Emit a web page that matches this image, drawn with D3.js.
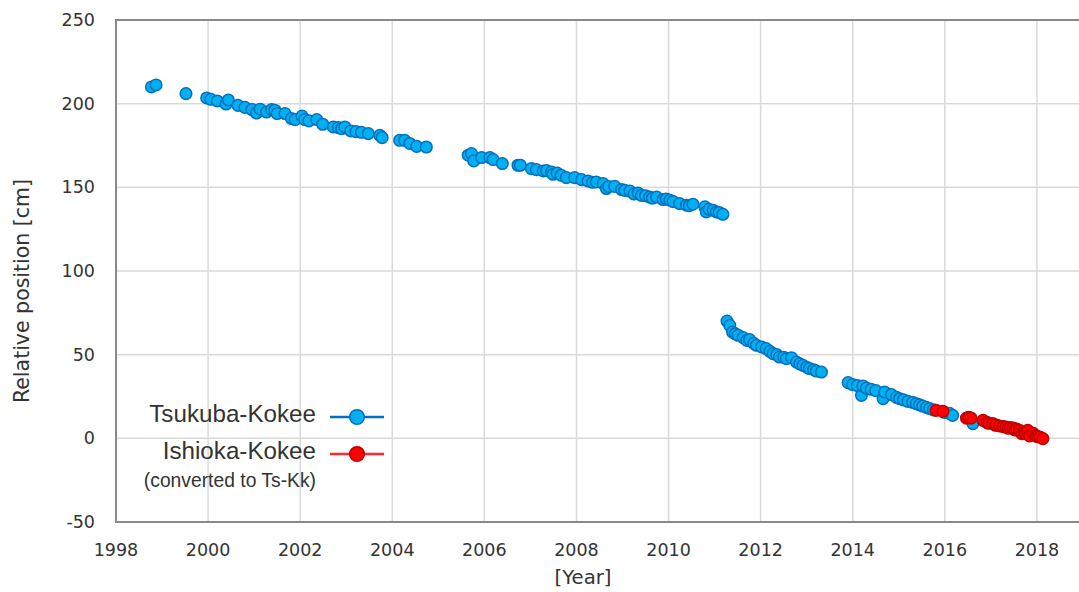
<!DOCTYPE html>
<html>
<head>
<meta charset="utf-8">
<script src="https://cdn.jsdelivr.net/npm/d3@7"></script>
<style>
  html, body { margin: 0; padding: 0; background: #fff; }
  svg { display: block; }
</style>
</head>
<body>
<svg id="chart" width="1079" height="592"></svg>
<script>
// Tsukuba-Kokee baseline length (relative position, cm) by decimal year
const tsYears = [
  1998.77, 1998.87, 1999.52, 1999.97, 2000.06, 2000.20, 2000.39, 2000.44, 2000.65, 2000.80,
  2000.95, 2001.05, 2001.13, 2001.27, 2001.38, 2001.45, 2001.50, 2001.67, 2001.81, 2001.89,
  2002.04, 2002.10, 2002.19, 2002.36, 2002.49, 2002.72, 2002.83, 2002.90, 2002.97, 2003.10,
  2003.21, 2003.33, 2003.48, 2003.73, 2003.78, 2004.16, 2004.27, 2004.38, 2004.53, 2004.74,
  2005.65, 2005.72, 2005.77, 2005.94, 2006.12, 2006.19, 2006.39, 2006.73, 2006.78, 2007.02,
  2007.13, 2007.28, 2007.35, 2007.46, 2007.49, 2007.58, 2007.67, 2007.78, 2007.96, 2008.11,
  2008.25, 2008.35, 2008.43, 2008.58, 2008.65, 2008.70, 2008.83, 2008.98, 2009.05, 2009.16,
  2009.25, 2009.34, 2009.41, 2009.50, 2009.59, 2009.65, 2009.74, 2009.88, 2009.95, 2010.03,
  2010.10, 2010.24, 2010.39, 2010.45, 2010.53, 2010.79, 2010.82, 2010.88, 2010.97, 2011.04,
  2011.10, 2011.18,
  2011.27, 2011.33, 2011.39, 2011.45, 2011.51, 2011.62, 2011.70, 2011.76, 2011.85, 2011.91,
  2012.02, 2012.12, 2012.20, 2012.27, 2012.35, 2012.41, 2012.50, 2012.56, 2012.67, 2012.78,
  2012.85, 2012.92, 2013.00, 2013.06, 2013.15, 2013.21, 2013.32,
  2013.90, 2014.00, 2014.10, 2014.19, 2014.22, 2014.30, 2014.40, 2014.50, 2014.66, 2014.69,
  2014.84, 2014.95, 2015.02, 2015.10, 2015.20, 2015.30, 2015.38, 2015.45, 2015.52, 2015.60,
  2015.67, 2015.75, 2015.99, 2016.10, 2016.17, 2016.61, 2016.90
];
const tsValues = [
  210.0, 211.2, 206.0, 203.4, 202.6, 201.6, 199.8, 202.2, 199.0, 197.8,
  196.5, 194.4, 196.7, 195.0, 196.5, 196.1, 194.1, 194.1, 191.1, 190.5,
  192.6, 190.5, 189.7, 190.5, 187.7, 186.1, 185.7, 185.1, 186.1, 183.7,
  183.3, 182.9, 182.1, 181.1, 179.7, 178.1, 178.1, 176.2, 174.5, 174.1,
  169.2, 170.2, 165.8, 167.8, 167.8, 166.6, 164.2, 163.2, 163.2, 161.2,
  160.6, 159.8, 160.0, 159.2, 157.8, 158.5, 157.2, 155.8, 155.8, 154.6,
  153.8, 153.0, 153.2, 152.2, 149.3, 150.5, 150.6, 148.7, 148.2, 147.8,
  146.0, 146.6, 145.2, 145.0, 144.2, 143.5, 144.2, 142.7, 143.0, 142.3,
  141.5, 140.3, 139.3, 139.0, 139.9, 138.3, 135.3, 136.8, 136.3, 135.3,
  135.0, 133.9,
  70.1, 67.5, 63.5, 62.5, 61.6, 60.2, 58.5, 59.0, 56.8, 55.6,
  54.6, 53.6, 52.0, 50.6, 50.0, 48.6, 48.5, 47.6, 48.2, 45.6,
  44.5, 43.6, 42.5, 41.7, 41.0, 40.2, 39.6,
  33.3, 32.1, 31.5, 25.7, 31.3, 30.0, 29.3, 28.5, 23.7, 27.7,
  26.1, 24.5, 23.7, 23.0, 22.1, 21.5, 20.7, 20.0, 19.3, 18.5,
  17.8, 17.0, 15.5, 14.9, 13.7, 8.8, 9.7
];

// Ishioka-Kokee values converted to the Tsukuba-Kokee baseline
const ikYears = [
  2015.81, 2015.96, 2016.47, 2016.52, 2016.57, 2016.83, 2016.92, 2016.95, 2017.04, 2017.10,
  2017.12, 2017.19, 2017.27, 2017.33, 2017.38, 2017.42, 2017.48, 2017.52, 2017.56, 2017.62,
  2017.67, 2017.72, 2017.75, 2017.80, 2017.84, 2017.92, 2017.98, 2018.01, 2018.06, 2018.13
];
const ikValues = [
  16.7, 16.1, 12.1, 12.5, 12.1, 10.8, 9.5, 9.0, 8.8, 7.8,
  8.0, 7.4, 7.0, 6.8, 6.0, 6.5, 6.2, 5.0, 5.5, 4.8,
  2.8, 3.5, 3.8, 4.8, 1.4, 3.0, 1.5, 1.0, 0.8, -0.2
];

const xTicks = [1998, 2000, 2002, 2004, 2006, 2008, 2010, 2012, 2014, 2016, 2018];
const yTicks = [-50, 0, 50, 100, 150, 200, 250];

const legendItems = [
  { label: "Tsukuba-Kokee", line: "#0070c0", fill: "#00b0f0", stroke: "#0070c0" },
  { label: "Ishioka-Kokee", line: "#ff2a2a", fill: "#ff0000", stroke: "#c00000" }
];

const svg = d3.select("#chart");
const plotLeft = 116, plotTop = 20, plotBottom = 522, plotRight = 1129;

const x = d3.scaleLinear().domain([1998, 2020]).range([plotLeft, plotRight]);
const y = d3.scaleLinear().domain([-50, 250]).range([plotBottom, plotTop]);

const tickFont = "'DejaVu Sans', Verdana, sans-serif";
const textColor = "#333";

// grid
const grid = svg.append("g");
grid.selectAll("line.v").data(xTicks.filter(d => d > 1998)).join("line")
  .attr("x1", d => x(d)).attr("x2", d => x(d))
  .attr("y1", plotTop).attr("y2", plotBottom)
  .attr("stroke", "#d9d9d9").attr("stroke-width", 1.5);
grid.selectAll("line.h").data(yTicks.filter(d => d > -50 && d < 250)).join("line")
  .attr("x1", plotLeft).attr("x2", plotRight)
  .attr("y1", d => y(d)).attr("y2", d => y(d))
  .attr("stroke", "#d9d9d9").attr("stroke-width", 1.5);

// frame: top, left and bottom edges
const frame = svg.append("g").attr("stroke", "#898989").attr("stroke-width", 2).attr("fill", "none");
frame.append("line").attr("x1", plotLeft).attr("x2", plotRight).attr("y1", y(250)).attr("y2", y(250));
frame.append("line").attr("x1", plotLeft).attr("x2", plotRight).attr("y1", y(-50)).attr("y2", y(-50));
frame.append("line").attr("x1", plotLeft).attr("x2", plotLeft).attr("y1", y(250) - 1).attr("y2", y(-50) + 1);

// y tick labels
svg.append("g").selectAll("text").data(yTicks).join("text")
  .attr("x", 95).attr("y", d => y(d)).attr("dy", "0.35em")
  .attr("text-anchor", "end")
  .attr("font-family", tickFont).attr("font-size", 17.5).attr("fill", textColor)
  .text(d => d);

// x tick labels
svg.append("g").selectAll("text").data(xTicks).join("text")
  .attr("x", d => x(d)).attr("y", 556)
  .attr("text-anchor", "middle")
  .attr("font-family", tickFont).attr("font-size", 17.5).attr("fill", textColor)
  .text(d => d);

// axis titles
svg.append("text")
  .attr("x", 583).attr("y", 584)
  .attr("text-anchor", "middle")
  .attr("font-family", tickFont).attr("font-size", 19.7).attr("fill", textColor)
  .text("[Year]");
svg.append("text")
  .attr("transform", "translate(22,291) rotate(-90)")
  .attr("dy", "0.35em")
  .attr("text-anchor", "middle")
  .attr("font-family", tickFont).attr("font-size", 20.5).attr("fill", textColor)
  .text("Relative position [cm]");

// data points
const ts = tsYears.map((t, i) => ({ t, v: tsValues[i] }));
const ik = ikYears.map((t, i) => ({ t, v: ikValues[i] }));

svg.append("g").selectAll("circle").data(ts).join("circle")
  .attr("cx", d => x(d.t)).attr("cy", d => y(d.v)).attr("r", 5.8)
  .attr("fill", legendItems[0].fill).attr("stroke", legendItems[0].stroke).attr("stroke-width", 1.5);

svg.append("g").selectAll("circle").data(ik).join("circle")
  .attr("cx", d => x(d.t)).attr("cy", d => y(d.v)).attr("r", 5.8)
  .attr("fill", legendItems[1].fill).attr("stroke", legendItems[1].stroke).attr("stroke-width", 1.5);

// legend
const legendFont = "'Liberation Sans', Arial, sans-serif";
const lg = svg.append("g");
const legendRows = [417, 454];
legendItems.forEach((it, i) => {
  const cy = legendRows[i];
  lg.append("text")
    .attr("x", 316).attr("y", cy - 3).attr("dy", "0.35em")
    .attr("text-anchor", "end")
    .attr("font-family", legendFont).attr("font-size", 24.2).attr("fill", textColor)
    .text(it.label);
  lg.append("line")
    .attr("x1", 330).attr("x2", 384).attr("y1", cy).attr("y2", cy)
    .attr("stroke", it.line).attr("stroke-width", 2.5);
  lg.append("circle")
    .attr("cx", 357).attr("cy", cy).attr("r", 7.3)
    .attr("fill", it.fill).attr("stroke", it.stroke).attr("stroke-width", 1.5);
});
lg.append("text")
  .attr("x", 316).attr("y", 480).attr("dy", "0.35em")
  .attr("text-anchor", "end")
  .attr("font-family", legendFont).attr("font-size", 19.3).attr("fill", textColor)
  .text("(converted to Ts-Kk)");
</script>
</body>
</html>
